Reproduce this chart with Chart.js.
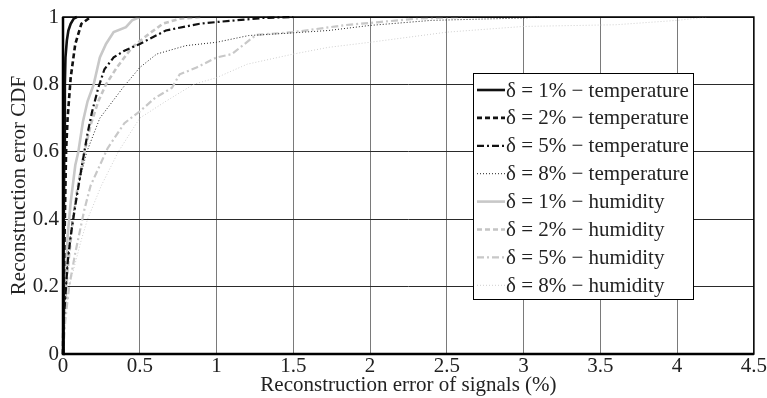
<!DOCTYPE html>
<html>
<head>
<meta charset="utf-8">
<script src="https://cdn.jsdelivr.net/npm/chart.js@4"></script>
<style>
  html, body { margin: 0; padding: 0; background: #fff; }
  #wrap { width: 767px; height: 398px; }
</style>
</head>
<body>
<div id="wrap"><canvas id="cdfChart" width="767" height="398"></canvas></div>
<script>
// Curve samples (error %, CDF)
const temp1X = [0, 0.004, 0.008, 0.012, 0.016, 0.025, 0.035, 0.05, 0.07, 0.09];
const temp1Y = [0, 0.3, 0.6, 0.8, 0.88, 0.93, 0.96, 0.98, 0.995, 1];

const temp2X = [0, 0.005, 0.012, 0.02, 0.03, 0.05, 0.08, 0.12, 0.18];
const temp2Y = [0, 0.2, 0.4, 0.6, 0.7, 0.82, 0.92, 0.98, 1];

const temp5X = [0, 0.005, 0.02, 0.03, 0.05, 0.08, 0.12, 0.16, 0.19, 0.23, 0.27, 0.33, 0.4, 0.5, 0.67, 0.89, 1.0, 1.3, 1.5];
const temp5Y = [0, 0.1, 0.2, 0.27, 0.35, 0.44, 0.55, 0.655, 0.72, 0.79, 0.845, 0.88, 0.9, 0.92, 0.96, 0.98, 0.985, 0.997, 1];

const temp8X = [0, 0.005, 0.02, 0.035, 0.06, 0.1, 0.155, 0.24, 0.39, 0.5, 0.61, 0.8, 1.0, 1.21, 1.5, 1.73, 2.0, 2.4, 3.0, 3.1];
const temp8Y = [0, 0.1, 0.2, 0.3, 0.4, 0.5, 0.6, 0.7, 0.79, 0.85, 0.89, 0.915, 0.925, 0.945, 0.953, 0.96, 0.975, 0.99, 0.997, 1];

const hum1X = [0, 0.01, 0.02, 0.03, 0.05, 0.08, 0.1, 0.13, 0.16, 0.2, 0.24, 0.28, 0.33, 0.41, 0.45, 0.5];
const hum1Y = [0, 0.15, 0.25, 0.35, 0.45, 0.56, 0.6, 0.69, 0.75, 0.8, 0.88, 0.92, 0.955, 0.97, 0.99, 1];

const hum2X = [0, 0.01, 0.03, 0.06, 0.09, 0.13, 0.18, 0.23, 0.28, 0.35, 0.45, 0.56, 0.65, 0.76, 0.9];
const hum2Y = [0, 0.12, 0.25, 0.38, 0.48, 0.58, 0.68, 0.75, 0.8, 0.85, 0.91, 0.95, 0.98, 0.995, 1];

const hum5X = [0, 0.015, 0.04, 0.08, 0.14, 0.18, 0.23, 0.29, 0.4, 0.5, 0.6, 0.71, 0.76, 0.87, 1.0, 1.1, 1.21, 1.26, 1.5, 1.84, 2.06, 2.3, 2.6];
const hum5Y = [0, 0.1, 0.2, 0.3, 0.43, 0.5, 0.55, 0.61, 0.685, 0.72, 0.76, 0.79, 0.83, 0.85, 0.88, 0.89, 0.93, 0.947, 0.955, 0.976, 0.985, 0.995, 1];

const hum8X = [0, 0.01, 0.04, 0.08, 0.12, 0.16, 0.25, 0.36, 0.5, 0.67, 0.85, 1.0, 1.2, 1.5, 1.73, 2.0, 2.5, 3.0, 3.6, 4.0, 4.2];
const hum8Y = [0, 0.1, 0.2, 0.27, 0.34, 0.4, 0.5, 0.6, 0.7, 0.75, 0.8, 0.82, 0.86, 0.89, 0.91, 0.925, 0.955, 0.972, 0.977, 0.99, 1];

const seriesLabels = [
    'δ = 1% − temperature',
    'δ = 2% − temperature',
    'δ = 5% − temperature',
    'δ = 8% − temperature',
    'δ = 1% − humidity',
    'δ = 2% − humidity',
    'δ = 5% − humidity',
    'δ = 8% − humidity'
];

const xTicks = [0, 0.5, 1, 1.5, 2, 2.5, 3, 3.5, 4, 4.5];
const yTicks = [0, 0.2, 0.4, 0.6, 0.8, 1];

const FONT = "'Liberation Serif', 'Times New Roman', serif";
const FSIZE = 21;

function pts(xs, ys) {
    return xs.map((x, i) => ({x: x, y: ys[i]}));
}

const curves = [
    {xs: temp1X, ys: temp1Y, color: '#111', width: 2.6, dash: []},
    {xs: temp2X, ys: temp2Y, color: '#111', width: 2.6, dash: [5, 3]},
    {xs: temp5X, ys: temp5Y, color: '#111', width: 2.2, dash: [7, 3, 2, 3]},
    {xs: temp8X, ys: temp8Y, color: '#222', width: 1, dash: [1, 2]},
    {xs: hum1X, ys: hum1Y, color: '#c8c8c8', width: 2.6, dash: []},
    {xs: hum2X, ys: hum2Y, color: '#c4c4c4', width: 2.6, dash: [5, 3]},
    {xs: hum5X, ys: hum5Y, color: '#c8c8c8', width: 2.2, dash: [7, 3, 2, 3]},
    {xs: hum8X, ys: hum8Y, color: '#cfcfcf', width: 1, dash: [1, 2]}
];

const datasets = curves.map((c, i) => ({
    label: seriesLabels[i],
    data: pts(c.xs, c.ys),
    borderColor: c.color,
    borderWidth: c.width,
    borderDash: c.dash,
    pointRadius: 0,
    showLine: true,
    fill: false,
    tension: 0,
    clip: 3,
    order: i < 4 ? 0 : 1   // black curves on top
}));

// frame around the plot area
const framePlugin = {
    id: 'frame',
    afterDatasetsDraw(chart) {
        const {ctx, chartArea: a} = chart;
        ctx.save();
        ctx.strokeStyle = '#000';
        ctx.lineWidth = 1.5;
        ctx.strokeRect(a.left, a.top, a.right - a.left, a.bottom - a.top);
        ctx.lineWidth = 2.5;
        ctx.beginPath();
        ctx.moveTo(a.left, a.top);
        ctx.lineTo(a.left, a.bottom);
        ctx.lineTo(a.right, a.bottom);
        ctx.stroke();
        ctx.restore();
    }
};

// boxed legend inside the plot
const boxLegend = {
    id: 'boxLegend',
    afterDraw(chart) {
        const ctx = chart.ctx;
        const left = 473, top = 73, w = 220, h = 226;
        const rowH = 27.9, firstRow = 90;
        ctx.save();
        ctx.fillStyle = '#fff';
        ctx.fillRect(left, top, w, h);
        ctx.strokeStyle = '#000';
        ctx.lineWidth = 1;
        ctx.strokeRect(left + 0.5, top + 0.5, w, h);
        chart.data.datasets.forEach((d, i) => {
            const y = firstRow + i * rowH;
            ctx.strokeStyle = d.borderColor;
            ctx.lineWidth = d.borderWidth;
            ctx.setLineDash(d.borderDash);
            ctx.beginPath();
            ctx.moveTo(477, y);
            ctx.lineTo(505, y);
            ctx.stroke();
            ctx.setLineDash([]);
            ctx.fillStyle = '#222';
            ctx.font = FSIZE + 'px ' + FONT;
            ctx.textBaseline = 'middle';
            ctx.textAlign = 'left';
            ctx.fillText(d.label, 506, y + 1);
        });
        ctx.restore();
    }
};

const chart = new Chart(document.getElementById('cdfChart').getContext('2d'), {
    type: 'scatter',
    data: {datasets: datasets},
    options: {
        responsive: false,
        animation: false,
        layout: {padding: {top: 17, right: 11, left: 0, bottom: 0}},
        plugins: {
            legend: {display: false},
            tooltip: {enabled: false}
        },
        scales: {
            x: {
                type: 'linear',
                min: 0,
                max: 4.5,
                afterBuildTicks: scale => { scale.ticks = xTicks.map(v => ({value: v})); },
                afterFit: scale => { scale.height = 44; },
                grid: {color: '#7a7a7a', lineWidth: 1, drawTicks: false},
                border: {display: false},
                ticks: {
                    padding: 0,
                    color: '#222',
                    font: {family: FONT, size: FSIZE},
                    maxRotation: 0,
                    callback: v => String(v)
                },
                title: {
                    display: true,
                    text: 'Reconstruction error of signals (%)',
                    color: '#222',
                    font: {family: FONT, size: FSIZE},
                    padding: {top: 0, bottom: 0}
                }
            },
            y: {
                type: 'linear',
                min: 0,
                max: 1,
                afterBuildTicks: scale => { scale.ticks = yTicks.map(v => ({value: v})); },
                afterFit: scale => { scale.width = 63; },
                grid: {color: '#2a2a2a', lineWidth: 1, drawTicks: false},
                border: {display: false},
                ticks: {
                    padding: 4,
                    color: '#222',
                    font: {family: FONT, size: FSIZE},
                    callback: v => String(v)
                },
                title: {
                    display: true,
                    text: 'Reconstruction error CDF',
                    color: '#222',
                    font: {family: FONT, size: FSIZE},
                    padding: {top: 7, bottom: 0}
                }
            }
        }
    },
    plugins: [framePlugin, boxLegend]
});
</script>
</body>
</html>
